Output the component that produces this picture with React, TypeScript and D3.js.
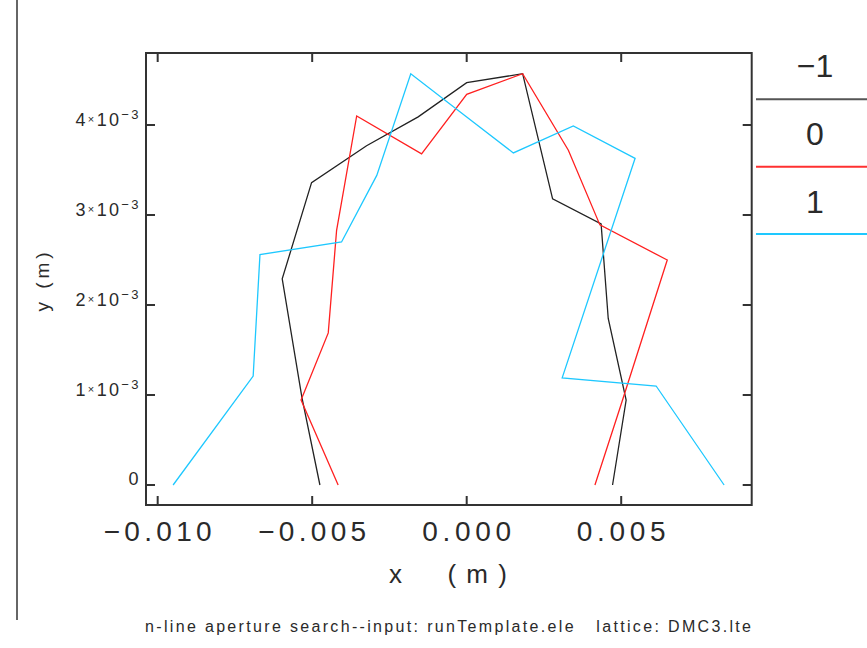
import React from "react";
import * as d3 from "d3";

// Series values in units of 1e-3 m (converted when drawn)
const seriesNames = ["−1", "0", "1"];
const seriesColors = ["#222222", "#ff2020", "#1ec8ff"];
const legendLineColors = ["#555555", "#ff3030", "#1ec8ff"];

const xNeg1 = [-4.75, -5.33, -5.97, -5.02, -3.24, -1.57, 0.0, 1.81, 2.78, 4.35, 4.58, 5.16, 4.72];
const yNeg1 = [0, 0.967, 2.29, 3.36, 3.77, 4.09, 4.47, 4.57, 3.18, 2.9, 1.85, 0.944, 0];

const xZero = [-4.16, -5.36, -4.48, -4.21, -3.56, -1.46, 0.0, 1.81, 3.29, 4.31, 6.49, 5.02, 4.15];
const yZero = [0, 0.944, 1.69, 2.83, 4.1, 3.68, 4.34, 4.57, 3.72, 2.89, 2.5, 0.92, 0];

const xPos1 = [-9.5, -6.91, -6.69, -4.05, -2.91, -1.81, 0.0, 1.51, 3.45, 5.45, 3.09, 6.13, 8.33];
const yPos1 = [0, 1.21, 2.56, 2.7, 3.44, 4.57, 4.09, 3.69, 3.99, 3.63, 1.19, 1.1, 0];

const xTicks = [-0.01, -0.005, 0.0, 0.005];
const yTicks = [0, 1e-3, 2e-3, 3e-3, 4e-3];
const yTickMantissa = ["0", "1", "2", "3", "4"];
const yTickExponent = "−3";

const xTitle = "x  (m)";
const yTitle = "y (m)";
const subtitle = "n-line aperture search--input: runTemplate.ele   lattice: DMC3.lte";

const W = 867;
const H = 648;
const plot = { left: 146, top: 53, right: 751.7, bottom: 505 };
const FONT = "'Liberation Sans', Arial, sans-serif";
const TEXT_FILL = "#2a2a2a";

export default function App() {
  const x = d3
    .scaleLinear()
    .domain([-10.378e-3, 9.223e-3])
    .range([plot.left, plot.right]);
  const y = d3
    .scaleLinear()
    .domain([-0.2222e-3, 4.8e-3])
    .range([plot.bottom, plot.top]);

  const series = [
    { xs: xNeg1, ys: yNeg1 },
    { xs: xZero, ys: yZero },
    { xs: xPos1, ys: yPos1 },
  ];

  const line = d3
    .line<[number, number]>()
    .x((d) => x(d[0] * 1e-3))
    .y((d) => y(d[1] * 1e-3));

  const fmt = d3.format(".3f");
  const tickLen = 9;
  const frameColor = "#333";

  const legendX0 = 756;
  const legendTextX = 815;
  const legendTextBase = [76.7, 145, 213.3];
  const legendLineY = [99.3, 166.7, 234];

  return (
    <svg
      width={W}
      height={H}
      style={{ position: "absolute", left: 0, top: 0, background: "#fff" }}
      fontFamily={FONT}
    >
      <rect x={0} y={0} width={W} height={H} fill="#fff" />
      {/* left border line */}
      <line x1={17} y1={0} x2={17} y2={620} stroke="#333" strokeWidth={1.5} />

      <defs>
        <clipPath id="clip">
          <rect
            x={plot.left}
            y={plot.top}
            width={plot.right - plot.left}
            height={plot.bottom - plot.top}
          />
        </clipPath>
      </defs>

      {/* data lines */}
      <g clipPath="url(#clip)">
        {series.map((s, i) => (
          <path
            key={i}
            d={line(s.xs.map((v, j) => [v, s.ys[j]] as [number, number])) || ""}
            fill="none"
            stroke={seriesColors[i]}
            strokeWidth={1.3}
            strokeLinejoin="miter"
          />
        ))}
      </g>

      {/* frame */}
      <rect
        x={plot.left}
        y={plot.top}
        width={plot.right - plot.left}
        height={plot.bottom - plot.top}
        fill="none"
        stroke={frameColor}
        strokeWidth={2}
      />

      {/* x ticks (bottom and top) */}
      {xTicks.map((t, i) => (
        <g key={"xt" + i}>
          <line x1={x(t)} x2={x(t)} y1={plot.bottom} y2={plot.bottom - tickLen} stroke={frameColor} strokeWidth={2} />
          <line x1={x(t)} x2={x(t)} y1={plot.top} y2={plot.top + tickLen} stroke={frameColor} strokeWidth={2} />
          <text
            x={x(t)}
            y={541}
            textAnchor="middle"
            fontSize={28}
            fill={TEXT_FILL}
            textLength={t < 0 ? 108 : 89}
            lengthAdjust="spacing"
          >
            {fmt(t)}
          </text>
        </g>
      ))}

      {/* y ticks (left and right) */}
      {yTicks.map((t, i) => (
        <g key={"yt" + i}>
          <line x1={plot.left} x2={plot.left + tickLen} y1={y(t)} y2={y(t)} stroke={frameColor} strokeWidth={2} />
          <line x1={plot.right} x2={plot.right - tickLen} y1={y(t)} y2={y(t)} stroke={frameColor} strokeWidth={2} />
          {t === 0 ? (
            <text x={138.5} y={y(t)} textAnchor="end" fontSize={18} fill={TEXT_FILL}>
              {yTickMantissa[i]}
            </text>
          ) : (
            <text
              x={138.5}
              y={y(t) + 1}
              textAnchor="end"
              fontSize={18}
              fill={TEXT_FILL}
              textLength={63}
              lengthAdjust="spacing"
            >
              <tspan>{yTickMantissa[i]}</tspan>
              <tspan fontSize={11} dy={-3}>×</tspan>
              <tspan dy={3}>10</tspan>
              <tspan fontSize={13} dy={-7}>{yTickExponent}</tspan>
            </text>
          )}
        </g>
      ))}

      {/* axis titles */}
      <text
        x={389}
        y={583}
        fontSize={26}
        fill={TEXT_FILL}
        textLength={118}
        lengthAdjust="spacing"
        style={{ whiteSpace: "pre" }}
      >
        {xTitle}
      </text>
      <text
        transform="translate(49,282) rotate(-90)"
        textAnchor="middle"
        fontSize={19}
        fill={TEXT_FILL}
        textLength={59}
        lengthAdjust="spacing"
        style={{ whiteSpace: "pre" }}
      >
        {yTitle}
      </text>

      {/* subtitle */}
      <text
        x={145}
        y={632}
        fontSize={16}
        fill={TEXT_FILL}
        textLength={606}
        lengthAdjust="spacing"
        style={{ whiteSpace: "pre" }}
      >
        {subtitle}
      </text>

      {/* legend */}
      {seriesNames.map((name, i) => (
        <g key={"lg" + i}>
          <text
            x={legendTextX}
            y={legendTextBase[i]}
            textAnchor="middle"
            fontSize={32}
            fill={TEXT_FILL}
          >
            {name}
          </text>
          <line
            x1={legendX0}
            x2={W}
            y1={legendLineY[i]}
            y2={legendLineY[i]}
            stroke={legendLineColors[i]}
            strokeWidth={2}
          />
        </g>
      ))}
    </svg>
  );
}
